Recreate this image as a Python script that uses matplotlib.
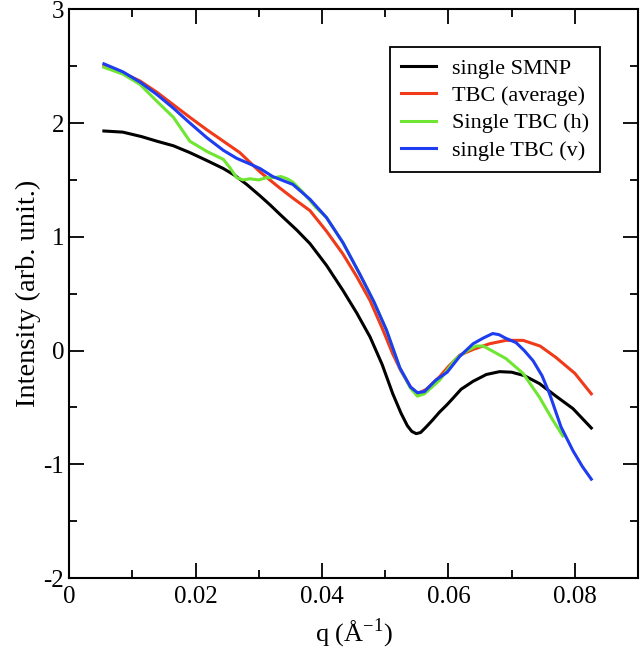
import matplotlib
matplotlib.use("Agg")
import matplotlib.pyplot as plt
from matplotlib.ticker import MultipleLocator, FuncFormatter

plt.rcParams['font.family'] = ['Liberation Serif', 'DejaVu Serif']
plt.rcParams['mathtext.fontset'] = 'custom'
plt.rcParams['mathtext.rm'] = 'Liberation Serif'
plt.rcParams['axes.unicode_minus'] = False

# single SMNP
q_smnp = [0.0055, 0.0085, 0.0115, 0.0139, 0.0165, 0.0191, 0.0218, 0.0244,
          0.0262, 0.0281, 0.0302, 0.0318, 0.0333, 0.0360, 0.0381, 0.0407,
          0.0433, 0.0455, 0.0476, 0.0495, 0.0512, 0.0525, 0.0535, 0.0542,
          0.0549, 0.0556, 0.0565, 0.0575, 0.0586, 0.0597, 0.0607, 0.0620,
          0.0639, 0.0660, 0.0681, 0.0700, 0.0720, 0.0744, 0.0770, 0.0797,
          0.0826]
i_smnp = [1.93, 1.92, 1.88, 1.84, 1.80, 1.74, 1.67, 1.60,
          1.54, 1.46, 1.36, 1.28, 1.20, 1.06, 0.94, 0.75,
          0.53, 0.33, 0.12, -0.12, -0.38, -0.55, -0.66, -0.71,
          -0.73, -0.72, -0.67, -0.61, -0.54, -0.48, -0.42, -0.34,
          -0.27, -0.21, -0.185, -0.19, -0.22, -0.29, -0.40, -0.51,
          -0.68]

# TBC (average)
q_avg = [0.0055, 0.0085, 0.0112, 0.0139, 0.0165, 0.0191, 0.0218, 0.0244,
         0.0270, 0.0302, 0.0333, 0.0354, 0.0381, 0.0407, 0.0433, 0.0455,
         0.0476, 0.0495, 0.0512, 0.0525, 0.0540, 0.0551, 0.0565, 0.0586,
         0.0600, 0.0618, 0.0639, 0.0665, 0.0691, 0.0718, 0.0745, 0.0770,
         0.0800, 0.0826]
i_avg = [2.50, 2.44, 2.37, 2.27, 2.16, 2.05, 1.94, 1.84,
         1.74, 1.57, 1.43, 1.34, 1.23, 1.05, 0.85, 0.65,
         0.44, 0.20, -0.03, -0.18, -0.32, -0.38, -0.34, -0.23,
         -0.14, -0.04, 0.01, 0.06, 0.09, 0.09, 0.04, -0.06,
         -0.20, -0.38]

# Single TBC (h)
q_h = [0.0055, 0.0085, 0.0112, 0.0139, 0.0165, 0.0191, 0.0218, 0.0244,
       0.0254, 0.0265, 0.0275, 0.0286, 0.0300, 0.0312, 0.0325, 0.0335,
       0.0345, 0.0354, 0.0370, 0.0390, 0.0407, 0.0433, 0.0460, 0.0482,
       0.0502, 0.0523, 0.0540, 0.0551, 0.0562, 0.0586, 0.0612, 0.0630,
       0.0644, 0.0655, 0.0665, 0.0691, 0.0718, 0.0744, 0.0765, 0.0781]
i_h = [2.49, 2.43, 2.34, 2.19, 2.05, 1.84, 1.75, 1.68,
       1.61, 1.52, 1.50, 1.51, 1.50, 1.52, 1.52, 1.53,
       1.51, 1.48, 1.39, 1.26, 1.17, 0.95, 0.67, 0.43,
       0.18, -0.15, -0.33, -0.40, -0.38, -0.26, -0.07, 0.00,
       0.04, 0.04, 0.01, -0.07, -0.20, -0.41, -0.61, -0.75]

# single TBC (v)
q_v = [0.0055, 0.0085, 0.0112, 0.0139, 0.0165, 0.0191, 0.0218, 0.0244,
       0.0265, 0.0286, 0.0302, 0.0322, 0.0354, 0.0381, 0.0407, 0.0433,
       0.0460, 0.0482, 0.0502, 0.0523, 0.0540, 0.0551, 0.0562, 0.0580,
       0.0598, 0.0618, 0.0639, 0.0655, 0.0670, 0.0680, 0.0690, 0.0707,
       0.0720, 0.0734, 0.0748, 0.0760, 0.0778, 0.0797, 0.0812, 0.0826]
i_v = [2.52, 2.45, 2.36, 2.25, 2.13, 2.00, 1.87, 1.76,
       1.69, 1.64, 1.60, 1.53, 1.46, 1.33, 1.17, 0.95,
       0.67, 0.43, 0.18, -0.15, -0.32, -0.37, -0.36, -0.26,
       -0.19, -0.05, 0.06, 0.11, 0.15, 0.14, 0.11, 0.07,
       0.00, -0.09, -0.22, -0.38, -0.67, -0.88, -1.02, -1.13]

series = [
    ("single SMNP", q_smnp, i_smnp, "black"),
    ("TBC (average)", q_avg, i_avg, "#f03a1a"),
    ("Single TBC (h)", q_h, i_h, "#6ee632"),
    ("single TBC (v)", q_v, i_v, "#1e3cf0"),
]

fig = plt.figure(figsize=(6.4, 6.6), dpi=100)
ax = fig.add_axes([0.108, 0.124, 0.889, 0.862])

for label, q, inten, color in series:
    ax.plot(q, inten, color=color, lw=2.2, label=label,
            solid_joinstyle='round')

ax.set_xlim(0, 0.09)
ax.set_ylim(-2, 3)
ax.xaxis.set_major_locator(MultipleLocator(0.02))
ax.xaxis.set_minor_locator(MultipleLocator(0.01))
ax.yaxis.set_major_locator(MultipleLocator(1))
ax.yaxis.set_minor_locator(MultipleLocator(0.5))
ax.xaxis.set_major_formatter(FuncFormatter(lambda v, p: '0' if abs(v) < 1e-9 else f'{v:g}'))
ax.yaxis.set_major_formatter(FuncFormatter(lambda v, p: f'{v:g}'))
ax.tick_params(which='both', direction='in', top=True, right=True,
               width=1.3, labelsize=18)
ax.tick_params(which='major', length=11)
ax.tick_params(which='minor', length=6)
ax.tick_params(axis='x', pad=6)
for s in ax.spines.values():
    s.set_linewidth(1.5)

ax.set_xlabel('q (Å$^{-1}$)', fontsize=19, labelpad=6)
ax.set_ylabel('Intensity (arb. unit.)', fontsize=20.5, labelpad=2)

leg = ax.legend(loc='upper right', bbox_to_anchor=(0.933, 0.933),
                borderaxespad=0, fontsize=16, fancybox=False,
                edgecolor='black', framealpha=1, handlelength=1.6,
                handletextpad=0.7, labelspacing=0.3, borderpad=0.5)
leg.get_frame().set_linewidth(1.3)

fig.savefig('out.png', dpi=100)
